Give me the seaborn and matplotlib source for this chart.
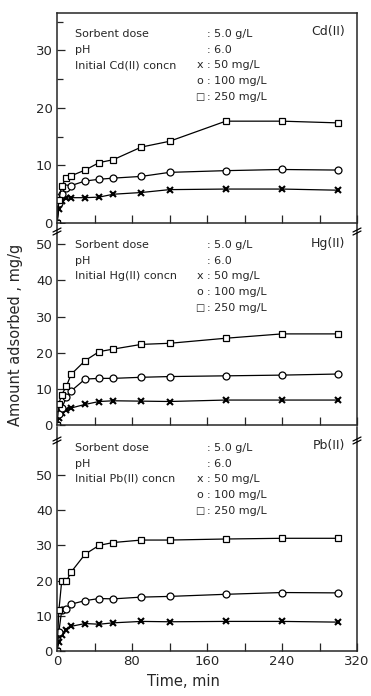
import numpy as np
import pandas as pd
import seaborn as sns
import matplotlib.pyplot as plt
from matplotlib.lines import Line2D
from matplotlib.transforms import offset_copy
from matplotlib.ticker import MultipleLocator

# contact time, min
time_min = [0, 2, 5, 10, 15, 30, 45, 60, 90, 120, 180, 240, 300]

# amount adsorbed, mg/g
cd_50 = [0, 2.5, 3.8, 4.3, 4.4, 4.4, 4.5, 5.0, 5.3, 5.8, 5.9, 5.9, 5.7]
cd_100 = [0, 3.5, 5.0, 6.0, 6.5, 7.3, 7.6, 7.8, 8.1, 8.8, 9.1, 9.3, 9.2]
cd_250 = [0, 4.0, 6.5, 7.8, 8.2, 9.2, 10.5, 11.0, 13.2, 14.2, 17.7, 17.7, 17.4]

hg_50 = [0, 2.0, 3.2, 4.2, 4.7, 5.7, 6.5, 6.7, 6.6, 6.5, 6.9, 6.9, 6.9]
hg_100 = [0, 3.0, 4.6, 7.7, 9.4, 12.7, 12.9, 12.9, 13.2, 13.4, 13.6, 13.8, 14.1]
hg_250 = [0, 5.9, 8.4, 10.7, 14.0, 17.8, 20.3, 21.0, 22.3, 22.6, 24.0, 25.2, 25.2]

pb_50 = [0, 2.5, 4.5, 6.0, 7.0, 7.8, 7.6, 8.0, 8.4, 8.3, 8.4, 8.4, 8.2]
pb_100 = [0, 5.5, 11.5, 12.0, 13.3, 14.3, 14.9, 14.8, 15.3, 15.5, 16.1, 16.6, 16.5]
pb_250 = [0, 11.5, 19.8, 19.8, 22.4, 27.5, 30.0, 30.8, 31.5, 31.5, 31.8, 32.0, 32.0]

conc_labels = ["50 mg/L", "100 mg/L", "250 mg/L"]
metals = ["Cd(II)", "Hg(II)", "Pb(II)"]
series = {
    "Cd(II)": [cd_50, cd_100, cd_250],
    "Hg(II)": [hg_50, hg_100, hg_250],
    "Pb(II)": [pb_50, pb_100, pb_250],
}

sns.set_style("ticks")
plt.rcParams['font.family'] = ['DejaVu Sans']

W, H = 371, 696
fig = plt.figure(figsize=(W / 100, H / 100), dpi=100)

# panel boxes in pixels: left, top, right, bottom
boxes = {
    "Cd(II)": (57, 13, 357, 223),
    "Hg(II)": (57, 224, 357, 425),
    "Pb(II)": (57, 427, 357, 651),
}
ylims = {"Cd(II)": 36.5, "Hg(II)": 55.6, "Pb(II)": 63.6}
ytops = {"Cd(II)": 30, "Hg(II)": 50, "Pb(II)": 50}
marker_map = {"50 mg/L": "x", "100 mg/L": "o", "250 mg/L": "s"}


def info_block(ax, metal):
    rows = [("Sorbent dose", "", ": 5.0 g/L"),
            ("pH", "", ": 6.0"),
            ("Initial " + metal + " concn", "x", ": 50 mg/L"),
            ("", "o", ": 100 mg/L"),
            ("", "\u25a1", ": 250 mg/L")]
    offs = [21, 37, 52, 68, 84]
    for (name, sym, val), off in zip(rows, offs):
        tr = offset_copy(ax.transAxes, fig=fig, x=18, y=-off, units='dots')
        ax.text(0, 1, name, transform=tr, fontsize=8, va='center', ha='left')
        if sym:
            tr = offset_copy(ax.transAxes, fig=fig, x=143, y=-off, units='dots')
            ax.text(0, 1, sym, transform=tr, fontsize=7 if sym == "\u25a1" else 8,
                    va='center', ha='center')
        tr = offset_copy(ax.transAxes, fig=fig, x=150, y=-off, units='dots')
        ax.text(0, 1, val, transform=tr, fontsize=8, va='center', ha='left')
    tr = offset_copy(ax.transAxes, fig=fig, x=288, y=-19, units='dots')
    ax.text(0, 1, metal, transform=tr, fontsize=9, va='center', ha='right')


for metal in metals:
    l, t, r, b = boxes[metal]
    ax = fig.add_axes([l / W, 1 - b / H, (r - l) / W, (b - t) / H])
    for conc, vals in zip(conc_labels, series[metal]):
        mk = marker_map[conc]
        sns.lineplot(x=time_min, y=vals, marker=mk, color="black", linewidth=0.9,
                     markersize=5, markerfacecolor="white", markeredgecolor="black",
                     markeredgewidth=1.5 if mk == "x" else 0.9, ax=ax)

    ax.set_xlim(0, 320)
    ax.set_ylim(0, ylims[metal])
    ax.xaxis.set_major_locator(MultipleLocator(80))
    ax.xaxis.set_minor_locator(MultipleLocator(40))
    ax.set_yticks(np.arange(0, ytops[metal] + 1, 10))
    if metal == "Cd(II)":
        ax.yaxis.set_minor_locator(MultipleLocator(5))
    ax.tick_params(which="both", direction="in", width=0.9, labelsize=9.5, pad=3)
    ax.tick_params(which="major", length=6)
    ax.tick_params(which="minor", length=6)
    ax.tick_params(axis="y", which="minor", length=4)
    ax.tick_params(axis="x", labelbottom=(metal == "Pb(II)"))
    ax.set_xlabel("")
    ax.set_ylabel("")
    for s in ax.spines.values():
        s.set_linewidth(1.1)
    if metal != "Cd(II)":
        ax.spines["top"].set_visible(False)
    info_block(ax, metal)

# axis break marks between the panels
for yb in (229, 438):
    for xb in (57, 357):
        for dy in (0, 3):
            fig.add_artist(Line2D([(xb - 4) / W, (xb + 4) / W],
                                  [1 - (yb + 3 + dy) / H, 1 - (yb - 1 + dy) / H],
                                  color="black", lw=0.9, transform=fig.transFigure))

fig.text(16 / W, 1 - 335 / H, "Amount adsorbed , mg/g", rotation=90,
         fontsize=10.5, ha="center", va="center")
fig.text(183 / W, 1 - 681 / H, "Time, min", fontsize=10.5, ha="center", va="center")

fig.savefig("out.png", dpi=100)
